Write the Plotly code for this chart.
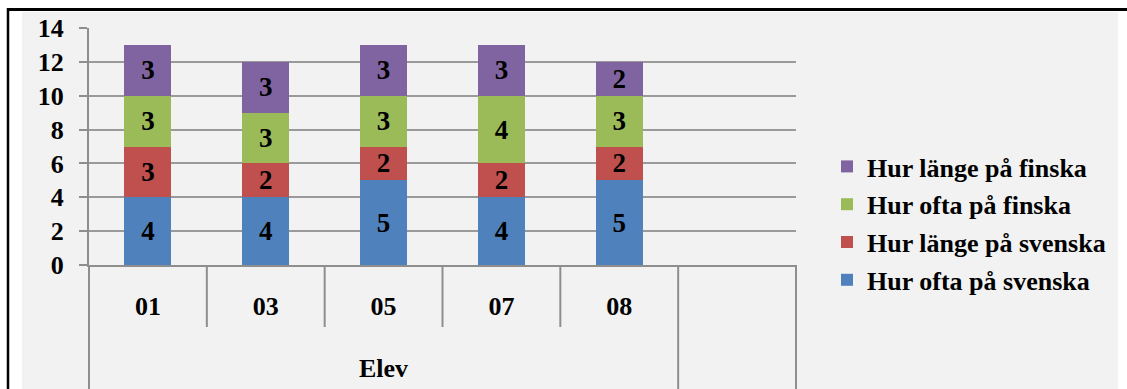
import plotly.graph_objects as go

# Students (Elev) and the empty trailing slot on the category axis
students = ["01", "03", "05", "07", "08"]
empty_slot = [" "]

# Answer counts per student, stacked bottom to top
ofta_svenska = [4, 4, 5, 4, 5]
lange_svenska = [3, 2, 2, 2, 2]
ofta_finska = [3, 3, 3, 4, 3]
lange_finska = [3, 3, 3, 3, 2]

series_names = [
    "Hur ofta på svenska",
    "Hur länge på svenska",
    "Hur ofta på finska",
    "Hur länge på finska",
]
series_values = [ofta_svenska, lange_svenska, ofta_finska, lange_finska]
series_colors = ["#4F81BD", "#C0504D", "#9BBB59", "#8064A2"]

y_ticks = [0, 2, 4, 6, 8, 10, 12, 14]
group_label = "Elev"

SERIF = "Liberation Serif"
GRID = "#9a9a9a"
AXIS = "#8e8e8e"
BG = "#F2F2F2"

W, H = 1127, 389
L, R, T, B = 89, 331, 28, 124
plot_w = W - L - R
plot_h = H - T - B


def px_x(px):
    return (px - L) / plot_w


def px_y(py):
    return (H - B - py) / plot_h


fig = go.Figure()
n_series = len(series_names)
for i, (name, vals, col) in enumerate(zip(series_names, series_values, series_colors)):
    fig.add_trace(
        go.Bar(
            name=name,
            x=students,
            y=vals,
            marker=dict(color=col, line=dict(width=0)),
            text=vals,
            texttemplate="%{text}",
            textposition="inside",
            insidetextanchor="middle",
            textangle=0,
            constraintext="none",
            textfont=dict(family=SERIF, size=27, color="black", weight="bold"),
            legendgroup=name,
            legendrank=n_series - i,
        )
    )

all_cats = students + empty_slot
n_cats = len(all_cats)

shapes = [
    # grey chart area
    dict(type="rect", xref="paper", yref="paper",
         x0=px_x(22), x1=px_x(1118), y0=px_y(12), y1=px_y(H + 10),
         fillcolor=BG, line=dict(width=0), layer="below"),
    # black frame on top and left
    dict(type="line", xref="paper", yref="paper",
         x0=px_x(7), x1=px_x(W + 10), y0=px_y(9.5), y1=px_y(9.5),
         line=dict(color="black", width=3)),
    dict(type="line", xref="paper", yref="paper",
         x0=px_x(8), x1=px_x(8), y0=px_y(8), y1=px_y(H + 10),
         line=dict(color="black", width=2.5)),
]

# category separators below the axis: short inside the group, long at group edges
for i in range(n_cats + 1):
    long_edge = i in (0, len(students), n_cats)
    y_end = px_y(H + 10) if long_edge else px_y(327)
    shapes.append(
        dict(type="line", xref="paper", yref="paper",
             x0=i / n_cats, x1=i / n_cats, y0=0, y1=y_end,
             line=dict(color=AXIS, width=2))
    )

fig.update_layout(
    width=W,
    height=H,
    autosize=False,
    margin=dict(l=L, r=R, t=T, b=B, pad=0),
    paper_bgcolor="white",
    plot_bgcolor="rgba(0,0,0,0)",
    barmode="stack",
    bargap=0.6,
    shapes=shapes,
    font=dict(family=SERIF, color="black"),
    legend=dict(
        x=px_x(827),
        y=px_y(143),
        xanchor="left",
        yanchor="top",
        traceorder="grouped",
        tracegroupgap=1,
        bgcolor="rgba(0,0,0,0)",
        font=dict(family=SERIF, size=26, color="black", weight="bold"),
    ),
    annotations=[
        dict(text=group_label, xref="x", yref="paper",
             x=(len(students) - 1) / 2, y=px_y(368),
             showarrow=False, xanchor="center", yanchor="middle",
             font=dict(family=SERIF, size=26, color="black", weight="bold"))
    ],
)

fig.update_xaxes(
    type="category",
    categoryorder="array",
    categoryarray=all_cats,
    range=[-0.5, n_cats - 0.5],
    showgrid=False,
    zeroline=False,
    showline=True,
    linecolor=AXIS,
    linewidth=2,
    ticks="",
    ticklabelstandoff=17,
    tickfont=dict(family=SERIF, size=26, color="black", weight="bold"),
)

fig.update_yaxes(
    range=[0, 14],
    tickvals=y_ticks,
    showgrid=True,
    gridcolor=GRID,
    gridwidth=1.5,
    zeroline=False,
    showline=True,
    linecolor=AXIS,
    linewidth=2,
    ticks="outside",
    ticklen=8,
    tickcolor=AXIS,
    tickwidth=1.5,
    ticklabelstandoff=10,
    tickfont=dict(family=SERIF, size=26, color="black", weight="bold"),
)

fig.write_html("out.html")
